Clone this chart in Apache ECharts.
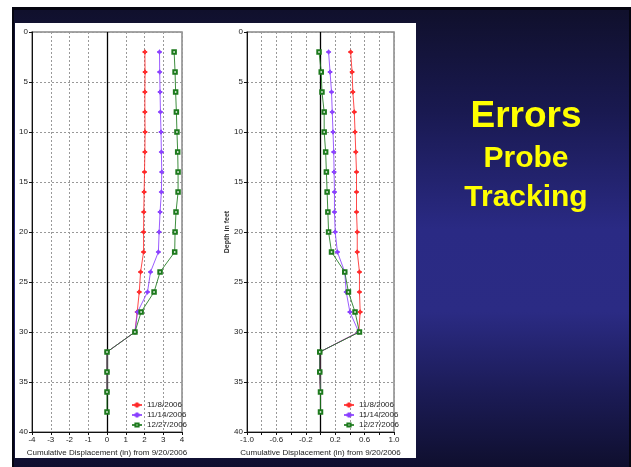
<!DOCTYPE html>
<html>
<head>
<meta charset="utf-8">
<script src="https://cdn.jsdelivr.net/npm/echarts@6/dist/echarts.min.js"></script>
<style>
html,body{margin:0;padding:0;background:#fff;}
#wrap{position:relative;width:631px;height:467px;overflow:hidden;background:#fff;}
#frame{position:absolute;left:12px;top:7px;width:619px;height:460px;background:#050510;}
#slide{position:absolute;left:14px;top:10px;width:615px;height:457px;
 background:linear-gradient(to bottom,#10102c 0%,#191950 22%,#2a2a84 48%,#2b2b84 66%,#1b1b55 84%,#0f0f2e 100%);}
#panel{position:absolute;left:15px;top:23px;width:401px;height:435px;background:#fff;}
#chart{position:absolute;left:0;top:0;width:631px;height:467px;}
</style>
</head>
<body>
<div id="wrap">
<div id="frame"></div>
<div id="slide"></div>
<div id="panel"></div>
<div id="chart"></div>
</div>
<script>
// Depths (ft)
var depthsA = [2,4,6,8,10,12,14,16,18,20,22,24,26,28,30,32,34,36];
var depthsB = [2,4,6,8,10,12,14,16,18,20,22,24,26,28,30,32,34,36,38];
var seriesNames = ['11/8/2006','11/14/2006','12/27/2006'];

// Left chart: cumulative displacement (in)
var leftRed    = [2.02,2.03,2.02,2.02,2.03,2.02,2.00,1.98,1.96,1.95,1.95,1.79,1.72,1.61,1.49,0,0,0];
var leftPurple = [2.80,2.81,2.83,2.85,2.88,2.90,2.92,2.90,2.83,2.78,2.74,2.32,2.16,1.63,1.49,0,0,0];
var leftGreen  = [3.58,3.63,3.66,3.70,3.73,3.77,3.79,3.79,3.68,3.63,3.61,2.83,2.51,1.82,1.49,0,0,0,0];

// Right chart: cumulative displacement (in)
var rightRed    = [0.41,0.43,0.44,0.46,0.47,0.48,0.49,0.49,0.49,0.50,0.50,0.53,0.53,0.54,0.52,-0.01,-0.01,0.00];
var rightPurple = [0.11,0.13,0.15,0.16,0.17,0.18,0.185,0.19,0.19,0.20,0.23,0.33,0.35,0.40,0.52,-0.01,-0.01,0.00];
var rightGreen  = [-0.02,0.01,0.02,0.05,0.05,0.07,0.08,0.09,0.10,0.11,0.15,0.33,0.38,0.47,0.53,-0.01,-0.01,0.00,0.00];

var leftXTicks = [-4,-3,-2,-1,0,1,2,3,4];
var rightXLabels = ['-1.0','-0.6','-0.2','0.2','0.6','1.0'];
var yTicks = [0,5,10,15,20,25,30,35,40];

function pairs(vals, depths){ return vals.map(function(v,i){ return [v, depths[i]]; }); }

var colors = ['#ff2a2a','#8a40ff','#1d7a1d'];
var plusPath = 'path://M3,0h2v3h3v2h-3v3h-2v-3h-3v-2h3z';
var symbols = [plusPath, plusPath, 'emptyRect'];
var sizes = [4,4,3.5];

var chart = echarts.init(document.getElementById('chart'), null, {renderer:'canvas'});

var fontFam = '"Liberation Sans", Arial, sans-serif';

function makeX(idx, min, max, interval, fmt){
  return {
    type:'value', gridIndex:idx, min:min, max:max, interval:interval,
    position:'bottom',
    name:'Cumulative Displacement (in) from 9/20/2006',
    nameLocation:'middle', nameGap:14,
    nameTextStyle:{fontSize:8, color:'#222', fontFamily:fontFam},
    axisLine:{show:true, onZero:false, lineStyle:{color:'#111', width:1}},
    axisTick:{show:true, length:3, lineStyle:{color:'#111'}},
    axisLabel:{fontSize:8, color:'#222', margin:4, fontFamily:fontFam, formatter:fmt, hideOverlap:false},
    splitLine:{show:true, lineStyle:{color:'#999', type:[2,2], width:1}}
  };
}
function makeY(idx, name){
  return {
    type:'value', gridIndex:idx, min:0, max:40, interval:5, inverse:true,
    name:name, nameLocation:'middle', nameGap:15, nameRotate:90,
    nameTextStyle:{fontSize:7, color:'#333', fontFamily:fontFam, fontWeight:'bold'},
    axisLine:{show:true, onZero:false, lineStyle:{color:'#111', width:1}},
    axisTick:{show:true, length:3, lineStyle:{color:'#111'}},
    axisLabel:{fontSize:8, color:'#222', margin:4, fontFamily:fontFam},
    splitLine:{show:true, lineStyle:{color:'#999', type:[2,2], width:1}}
  };
}

var leftData = [leftRed, leftPurple, leftGreen];
var rightData = [rightRed, rightPurple, rightGreen];
var leftDepths = [depthsA, depthsA, depthsB];

var series = [];
[0,1].forEach(function(g){
  var dataSet = g===0 ? leftData : rightData;
  dataSet.forEach(function(vals, k){
    var s = {
      name: seriesNames[k], type:'line', xAxisIndex:g, yAxisIndex:g,
      data: pairs(vals, leftDepths[k]),
      symbol: symbols[k], symbolSize: sizes[k], showSymbol:true,
      lineStyle:{color:colors[k], width:1, opacity:0.85},
      itemStyle:{color:colors[k], borderColor:colors[k], borderWidth:1},
      animation:false, silent:true, z:3+k
    };
    if(k===0){
      s.markLine = {silent:true, symbol:['none','none'], label:{show:false},
        lineStyle:{color:'#000', type:'solid', width:1.3}, data:[{xAxis:0}], animation:false, z:2};
    }
    series.push(s);
  });
});

var rightFmt = function(v){
  var idx = Math.round((v + 1) / 0.2);
  return idx % 2 === 0 ? v.toFixed(1) : '';
};

var titleFont = function(sz){ return 'bold ' + sz + 'px "Liberation Sans", Arial, sans-serif'; };
var shadow = {textShadowColor:'rgba(0,0,0,0.5)', textShadowOffsetX:1, textShadowOffsetY:1};

chart.setOption({
  animation:false,
  backgroundColor:'transparent',
  textStyle:{fontFamily:fontFam},
  grid:[
    {left:32, top:32, width:150, height:400, show:true, borderColor:'#888', borderWidth:1.5, backgroundColor:'#fff'},
    {left:247, top:32, width:147, height:400, show:true, borderColor:'#888', borderWidth:1.5, backgroundColor:'#fff'}
  ],
  xAxis:[
    makeX(0, leftXTicks[0], leftXTicks[leftXTicks.length-1], 1, function(v){ return String(v); }),
    makeX(1, -1, 1, 0.2, rightFmt)
  ],
  yAxis:[ makeY(0, ''), makeY(1, 'Depth in feet') ],
  legend:[
    {data:seriesNames, orient:'vertical', left:131, top:401, itemWidth:10, itemHeight:4, itemGap:2,
     textStyle:{fontSize:8, color:'#222', fontFamily:fontFam}, padding:0, selectedMode:false},
    {data:seriesNames, orient:'vertical', left:343, top:401, itemWidth:10, itemHeight:4, itemGap:2,
     textStyle:{fontSize:8, color:'#222', fontFamily:fontFam}, padding:0, selectedMode:false}
  ],
  graphic:[
    {type:'text', style:Object.assign({text:'Errors', x:526, y:117, fill:'#ffff00', font:titleFont(37), align:'center', verticalAlign:'middle'}, shadow)},
    {type:'text', style:Object.assign({text:'Probe', x:526, y:159, fill:'#ffff00', font:titleFont(30), align:'center', verticalAlign:'middle'}, shadow)},
    {type:'text', style:Object.assign({text:'Tracking', x:526, y:198, fill:'#ffff00', font:titleFont(30), align:'center', verticalAlign:'middle'}, shadow)}
  ],
  series:series
});
</script>
</body>
</html>
